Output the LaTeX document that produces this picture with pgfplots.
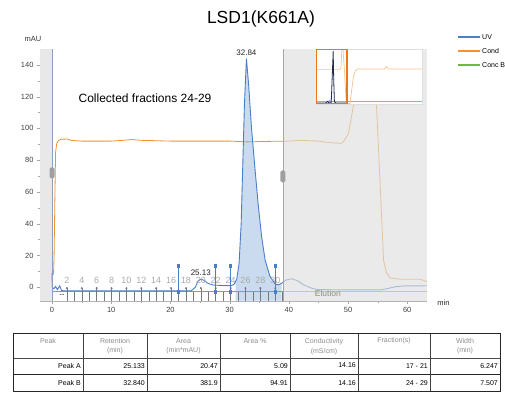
\documentclass[border=0pt]{standalone}
\usepackage{fontspec}
\setmainfont{Liberation Sans}
\usepackage{pgfplots}
\pgfplotsset{compat=1.18}
\definecolor{uvblue}{RGB}{74,126,198}
\definecolor{condorange}{RGB}{240,145,50}
\definecolor{condpale}{RGB}{246,196,140}
\definecolor{concgreen}{RGB}{112,185,60}
\definecolor{peakfill}{RGB}{202,219,240}
\definecolor{leftgrey}{RGB}{232,232,232}
\definecolor{overlaygrey}{RGB}{222,222,222}
\definecolor{fraclabel}{RGB}{170,170,170}
\definecolor{boxorange}{RGB}{232,120,30}
\definecolor{minidark}{RGB}{35,45,75}
\definecolor{tickgrey}{RGB}{120,120,120}
\definecolor{hdrgrey}{RGB}{140,140,140}
\begin{document}
\begin{tikzpicture}[x=1pt,y=1pt]
\useasboundingbox (0,0) rectangle (505,392);
\node[font=\fontsize{17.5}{20}\selectfont] at (261,373) {LSD1(K661A)};
\node[font=\fontsize{7.5}{8}\selectfont, text=black!80] at (33,353.5) {mAU};
\node[font=\fontsize{7.5}{8}\selectfont, text=black!85] at (443.5,89) {min};

\begin{axis}[
  at={(40pt,91.3pt)}, anchor=south west,
  width=387pt, height=251.7pt, scale only axis,
  xmin=-2.03, xmax=63.34, ymin=-8.5, ymax=150,
  axis x line*=bottom, axis y line*=left,
  xtick={0,10,...,60}, ytick={0,20,...,140},
  minor x tick num=1, minor y tick num=1,
  tick align=outside, major tick length=3pt, minor tick length=2pt,
  tick style={gray!70}, axis line style={gray!60},
  /pgf/number format/assume math mode=true,
  ticklabel style={font=\fontsize{7.5}{8}\selectfont, text=black!75},
  clip mode=individual,
]
% left grey region
\fill[leftgrey] (axis cs:-2.03,-8.5) rectangle (axis cs:0,150);
% peak B fill
\addplot[fill=peakfill, draw=none, forget plot] coordinates {
 (31,-8.5) (31,3.5) (31.2,5) (31.6,15) (31.95,40) (32.2,74) (32.5,115) (32.84,144)
 (33.2,128) (33.7,100) (34.3,74) (34.8,53) (35.4,32) (36,17) (36.8,7) (37.7,2)
 (38.2,1.5) (38.8,2.5) (38.8,-8.5)};
% Conc B
\addplot[concgreen, line width=1pt] coordinates {(0,-3) (63.34,-3)};
% Cond
\addplot[condorange, line width=0.8pt] coordinates {
 (0.25,8) (0.35,20) (0.5,60) (0.6,85) (0.8,90.5) (1.1,92.5) (1.6,93.2) (2.6,93.3)
 (3.2,92.5) (5,92) (10,92) (12,92.5) (13.5,93) (15,92.5) (20,92) (30,92) (33,91.5)
 (36,91.8) (40,92) (42,92.5) (45,92) (47,91) (48.9,90.6) (49.3,92) (50.1,97)
 (50.9,114) (51.4,150) (51.6,160) (54.2,160) (54.4,150) (54.8,115) (55.4,67)
 (56,17) (56.5,9) (57.1,5.8) (58.8,5) (62.2,5) (63.34,3.5)};
% UV
\addplot[uvblue, line width=0.9pt] coordinates {
 (0,9) (0.05,0) (0.3,-1) (0.6,0.5) (0.9,-1.5) (1.3,0.8) (1.6,-2) (2,-2.3)
 (23.5,-2.3) (24.2,0) (24.7,4) (25.13,5) (25.6,4.5) (26.3,2.5) (27.2,1.4) (29,1)
 (30.3,1) (30.8,2) (31.2,5) (31.6,15) (31.95,40) (32.2,74) (32.5,115) (32.84,144)
 (33.2,128) (33.7,100) (34.3,74) (34.8,53) (35.4,32) (36,17) (36.8,7) (37.7,2)
 (38.2,1.5) (38.8,2.5) (39.5,4.5) (40.5,5.3) (41.5,4) (42.5,1.5) (44,-0.8) (45,-1.5)
 (50,-1.7) (55.5,-1.7) (56.5,-1) (58,0.3) (59.5,0.8) (63.34,0.9)};
% fraction ticks (short)
\addplot[tickgrey, line width=0.5pt, unbounded coords=jump] coordinates {
 (3.771,-8.5) (3.771,-3) (3.771,nan)
 (6.285,-8.5) (6.285,-3) (6.285,nan)
 (8.799,-8.5) (8.799,-3) (8.799,nan)
 (11.313,-8.5) (11.313,-3) (11.313,nan)
 (13.827,-8.5) (13.827,-3) (13.827,nan)
 (16.341,-8.5) (16.341,-3) (16.341,nan)
 (18.855,-8.5) (18.855,-3) (18.855,nan)
 (21.369,-8.5) (21.369,-3) (21.369,nan)
 (23.883,-8.5) (23.883,-3) (23.883,nan)
 (26.397,-8.5) (26.397,-3) (26.397,nan)
 (28.911,-8.5) (28.911,-3) (28.911,nan)
 (31.425,-8.5) (31.425,-3) (31.425,nan)
 (33.939,-8.5) (33.939,-3) (33.939,nan)
 (36.453,-8.5) (36.453,-3) (36.453,nan)
 (38.967,-8.5) (38.967,-3)};
% fraction ticks (tall)
\addplot[tickgrey, line width=0.5pt, unbounded coords=jump] coordinates {
 (2.514,-8.5) (2.514,-0.6) (2.514,nan)
 (5.028,-8.5) (5.028,-0.6) (5.028,nan)
 (7.542,-8.5) (7.542,-0.6) (7.542,nan)
 (10.056,-8.5) (10.056,-0.6) (10.056,nan)
 (12.57,-8.5) (12.57,-0.6) (12.57,nan)
 (15.084,-8.5) (15.084,-0.6) (15.084,nan)
 (17.598,-8.5) (17.598,-0.6) (17.598,nan)
 (20.112,-8.5) (20.112,-0.6) (20.112,nan)
 (22.626,-8.5) (22.626,-0.6) (22.626,nan)
 (25.14,-8.5) (25.14,-0.6) (25.14,nan)
 (27.654,-8.5) (27.654,-0.6) (27.654,nan)
 (30.168,-8.5) (30.168,-0.6) (30.168,nan)
 (32.682,-8.5) (32.682,-0.6) (32.682,nan)
 (35.196,-8.5) (35.196,-0.6) (35.196,nan)
 (37.71,-8.5) (37.71,-0.6)};
\addplot[only marks, mark=*, mark size=0.8pt, tickgrey] coordinates {
 (2.514,-0.6) (5.028,-0.6) (7.542,-0.6) (10.056,-0.6) (12.57,-0.6) (15.084,-0.6)
 (17.598,-0.6) (20.112,-0.6) (22.626,-0.6) (25.14,-0.6) (27.654,-0.6) (30.168,-0.6)
 (32.682,-0.6) (35.196,-0.6) (37.71,-0.6)};
% fraction labels
\addplot[only marks, mark=none, nodes near coords, point meta=explicit symbolic,
  nodes near coords align=center,
  every node near coord/.style={font=\fontsize{9}{9}\selectfont, text=fraclabel, anchor=center}]
 table[meta=lab] {
 x y lab
 2.514 4 2
 5.028 4 4
 7.542 4 6
 10.056 4 8
 12.57 4 10
 15.084 4 12
 17.598 4 14
 20.112 4 16
 22.626 4 18
 25.14 4 20
 27.654 4 22
 30.168 4 24
 32.682 4 26
 35.196 4 28
 37.71 4 30
 };
% fraction cut stems
\addplot[uvblue, line width=0.8pt, mark=square*, mark size=1.1pt] coordinates {(21.369,-3) (21.369,13.4)};
\addplot[uvblue, line width=0.8pt, mark=square*, mark size=1.1pt] coordinates {(27.654,-3) (27.654,13.4)};
\addplot[uvblue, line width=0.8pt, mark=square*, mark size=1.1pt] coordinates {(30.168,-3) (30.168,13.4)};
\addplot[uvblue, line width=0.8pt, mark=square*, mark size=1.1pt] coordinates {(37.71,-3) (37.71,13.4)};
% right grey (faded) region
\fill[overlaygrey, opacity=0.65] (axis cs:39,-8.5) rectangle (axis cs:63.34,150);
% boundaries and handles
\draw[color={rgb,255:red,140;green,160;blue,190}, line width=0.6pt] (axis cs:0,-8.5) -- (axis cs:0,150);
\draw[gray!70, line width=0.6pt] (axis cs:39,-8.5) -- (axis cs:39,150);
\fill[gray!75, rounded corners=1.5pt] (axis cs:-0.42,68.5) rectangle (axis cs:0.42,75.5);
\fill[gray!75, rounded corners=1.5pt] (axis cs:38.58,66) rectangle (axis cs:39.42,73.5);
% texts
\node[font=\fontsize{8.5}{9}\selectfont, text=gray!90] at (axis cs:46.6,-3.8) {Elution};
\node[font=\fontsize{12}{14}\selectfont, anchor=west] at (axis cs:3.9,119.3) {Collected fractions 24-29};
\node[font=\fontsize{8}{9}\selectfont, text=black!85] at (axis cs:25.13,8.9) {25.13};
\node[font=\fontsize{8}{9}\selectfont, text=black!85] at (axis cs:32.84,147.8) {32.84};
\node[font=\fontsize{6}{6}\selectfont\bfseries, text=black!80] at (axis cs:1.7,-5.2) {...};
\end{axis}

% inset overview
\begin{axis}[
  at={(316pt,288pt)}, anchor=south west,
  width=106pt, height=55pt, scale only axis,
  xmin=0, xmax=216, ymin=0, ymax=100,
  xtick=\empty, ytick=\empty,
  axis line style={gray!25},
  axis background/.style={fill=white},
]
\addplot[concgreen!80, line width=0.8pt] coordinates {(0,4.5) (216,4.5)};
\addplot[condpale, line width=0.7pt] coordinates {
 (0,3) (0.6,63) (49,63) (51,66) (52.5,100) (55,100) (58,60) (61,10) (64,2) (69,0) (72,20)
 (76,48) (80,60) (85,63.6) (140,63.6) (144,68) (148,63.6) (216,63.6)};
\addplot[fill=uvblue!70, draw=none] coordinates {(24,1) (26,6) (29,8) (31,2) (31,1)};
\addplot[minidark, line width=0.8pt] coordinates {
 (0,2) (20,2) (24,5) (26,2) (31,2) (33.5,60) (35,96) (36.2,40) (37.5,4) (40,2) (63,2)};
\draw[boxorange, line width=1.3pt] (axis cs:0.6,0.8) rectangle (axis cs:63,99.2);
\end{axis}

% legend
\draw[uvblue, line width=2.2pt] (458,355.3) -- (480,355.3);
\draw[condorange, line width=2.2pt] (458,341) -- (480,341);
\draw[concgreen, line width=2.2pt] (458,327) -- (480,327);
\node[font=\fontsize{7}{8}\selectfont, anchor=west, inner sep=1pt] at (481,355.3) {UV};
\node[font=\fontsize{7}{8}\selectfont, anchor=west, inner sep=1pt] at (481,341) {Cond};
\node[font=\fontsize{7}{8}\selectfont, anchor=west, inner sep=1pt] at (481,327) {Conc B};

% table
\draw[black!70, line width=0.6pt] (13,34) -- (500,34);
\draw[black!85, line width=0.9pt] (13,17.5) -- (500,17.5);
\foreach \xx in {83,147,220,290,358,430} {
  \draw[black!75, line width=0.7pt] (\xx,1) -- (\xx,58.5);
}
\draw[black!85, line width=1pt] (13,1) rectangle (500,58.5);
\begin{scope}[every node/.style={font=\fontsize{7}{8}\selectfont, inner sep=0pt}]
\node[text=hdrgrey] at (48,51) {Peak};
\node[text=hdrgrey] at (115,51) {Retention};
\node[text=hdrgrey] at (115,41) {(min)};
\node[text=hdrgrey] at (183.5,51) {Area};
\node[text=hdrgrey] at (183.5,41) {(min*mAU)};
\node[text=hdrgrey] at (255,51) {Area \%};
\node[text=hdrgrey] at (324,50) {Conductivity};
\node[text=hdrgrey] at (324,40.5) {(mS/cm)};
\node[text=hdrgrey] at (394,51) {Fraction(s)};
\node[text=hdrgrey] at (465,51) {Width};
\node[text=hdrgrey] at (465,41) {(min)};
\node[anchor=east] at (81,26) {Peak A};
\node[anchor=east] at (145,26) {25.133};
\node[anchor=east] at (218,26) {20.47};
\node[anchor=east] at (288,26) {5.09};
\node[anchor=east] at (356,26.5) {14.16};
\node[anchor=east] at (428,26) {17 - 21};
\node[anchor=east] at (498,26) {6.247};
\node[anchor=east] at (81,9) {Peak B};
\node[anchor=east] at (145,9) {32.840};
\node[anchor=east] at (218,9) {381.9};
\node[anchor=east] at (288,9) {94.91};
\node[anchor=east] at (356,8.5) {14.16};
\node[anchor=east] at (428,9) {24 - 29};
\node[anchor=east] at (498,9) {7.507};
\end{scope}
\end{tikzpicture}
\end{document}
